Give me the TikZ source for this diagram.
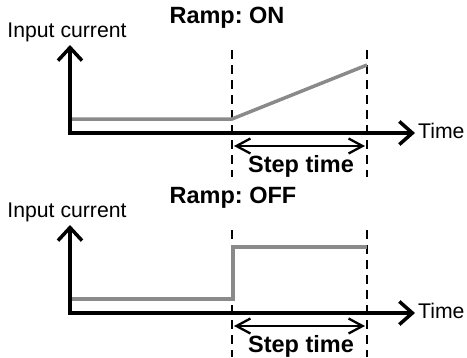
\documentclass[tikz,border=0pt]{standalone}
\usepackage{fontspec}
\setmainfont{Liberation Sans}
\usetikzlibrary{arrows.meta}
\definecolor{curvegray}{HTML}{8A8A8A}
\tikzset{
  axisline/.style={line width=3.5pt, {Straight Barb[length=13pt,width=24pt,line width=3.5pt]}-{Straight Barb[length=13pt,width=23pt,line width=3.5pt]}},
  curve/.style={line width=3.5pt, curvegray},
  guide/.style={line width=2.4pt, dash pattern=on 9pt off 6pt},
  spanarrow/.style={line width=2.3pt, {Straight Barb[length=14pt,width=15pt,line width=2.3pt]}-{Straight Barb[length=14pt,width=15pt,line width=2.3pt]}},
  plainlabel/.style={inner sep=0pt, font=\fontsize{21.2}{24}\selectfont},
  boldlabel/.style={inner sep=0pt, font=\fontsize{23.5}{26}\selectfont\bfseries\frenchspacing},
}
\begin{document}
\begin{tikzpicture}[x=1pt,y=-1pt]
\useasboundingbox (0,0) rectangle (467,357);
% ---------- top panel (Ramp: ON)
\node[boldlabel] (titleA) at (227,18) {Ramp: ON};
\node[plainlabel] (ylabA) at (67,32) {Input current};
\coordinate (ytipA) at (70,45);
\coordinate (originA) at (70,133);
\coordinate (xtipA) at (415,133);
\node[plainlabel, anchor=west] (timeA) at (418,131) {Time};
\coordinate (d1topA) at (232,50);
\coordinate (d1botA) at (232,177);
\coordinate (d2topA) at (367,50);
\coordinate (d2botA) at (367,177);
\draw[guide] (d1topA) -- (d1botA);
\draw[guide] (d2topA) -- (d2botA);
\coordinate (c1A) at (70,119);
\coordinate (c2A) at (232,119);
\coordinate (c3A) at (367,65);
\draw[curve] (c1A) -- (c2A) -- (c3A);
\draw[axisline] (ytipA) -- (originA) -- (xtipA);
\coordinate (s1A) at (234,146);
\coordinate (s2A) at (365,146);
\draw[spanarrow] (s1A) -- (s2A);
\node[boldlabel] (stepA) at (301,166) {Step time};
% ---------- bottom panel (Ramp: OFF)
\node[boldlabel] (titleB) at (233,198) {Ramp: OFF};
\node[plainlabel] (ylabB) at (67,212) {Input current};
\coordinate (ytipB) at (70,225);
\coordinate (originB) at (70,313);
\coordinate (xtipB) at (415,313);
\node[plainlabel, anchor=west] (timeB) at (418,311) {Time};
\coordinate (d1topB) at (232,230);
\coordinate (d1botB) at (232,357);
\coordinate (d2topB) at (367,230);
\coordinate (d2botB) at (367,357);
\draw[guide] (d1topB) -- (d1botB);
\draw[guide] (d2topB) -- (d2botB);
\coordinate (c1B) at (70,299);
\coordinate (c2B) at (233,299);
\coordinate (c3B) at (233,247);
\coordinate (c4B) at (367,247);
\draw[curve] (c1B) -- (c2B) -- (c3B) -- (c4B);
\draw[axisline] (ytipB) -- (originB) -- (xtipB);
\coordinate (s1B) at (234,326);
\coordinate (s2B) at (365,326);
\draw[spanarrow] (s1B) -- (s2B);
\node[boldlabel] (stepB) at (301,346) {Step time};
\end{tikzpicture}
\end{document}
